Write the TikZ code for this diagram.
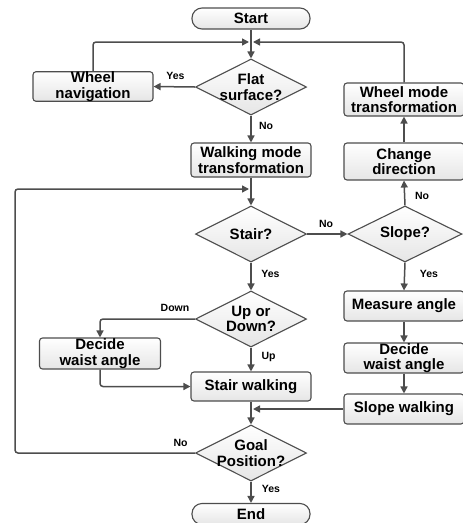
\documentclass[tikz,border=0pt]{standalone}
\usepackage{fontspec}
\setmainfont{Liberation Sans}
\usetikzlibrary{shapes.geometric,arrows.meta}
\definecolor{lncol}{HTML}{4D4D4D}
\begin{document}
\begin{tikzpicture}[x=1pt,y=-1pt,
  box/.style={draw=lncol, line width=1.1pt, rounded corners=3pt, top color=white, bottom color=black!10,
    minimum width=120pt, inner sep=0pt, align=center, font=\bfseries\fontsize{15}{15.5}\selectfont},
  term/.style={box, rounded corners=10pt, minimum width=118pt, minimum height=21pt},
  dia/.style={diamond, draw=lncol, line width=1.1pt, top color=white, bottom color=black!10,
    minimum width=111pt, minimum height=56pt, inner sep=0pt},
  dtext/.style={align=center, inner sep=0pt, font=\bfseries\fontsize{15}{15.5}\selectfont},
  arr/.style={draw=lncol, line width=1.5pt, rounded corners=3pt, -{Triangle[length=7pt,width=7pt]}},
  lab/.style={font=\bfseries\fontsize{10.5}{12}\selectfont, inner sep=0pt}
]
\useasboundingbox (0,0) rectangle (463,523);

% nodes
\node[term] (start) at (251,18.5) {Start};
\node[dia, label={[dtext]center:{Flat\\surface?}}] (flat) at (251,87) {};
\node[box, minimum height=29pt] (wnav) at (93,86.5) {Wheel\\navigation};
\node[box, minimum height=34pt] (walk) at (251,160) {Walking mode\\transformation};
\node[box, minimum height=33pt] (wmt) at (404,99.5) {Wheel mode\\transformation};
\node[box, minimum height=37pt] (chdir) at (404,161.5) {Change\\direction};
\node[dia, label={[dtext]center:{Stair?}}] (stair) at (251,234) {};
\node[dia, minimum width=114pt, label={[dtext]center:{Slope?}}] (slope) at (405,234) {};
\node[dia, label={[dtext]center:{Up or\\Down?}}] (updown) at (251,319) {};
\node[box, minimum width=121pt, minimum height=31pt] (dwl) at (100,353.5) {Decide\\waist angle};
\node[box, minimum height=30pt] (measure) at (404,306) {Measure angle};
\node[box, minimum height=30pt] (dwr) at (404,358) {Decide\\waist angle};
\node[box, minimum height=29pt] (stairw) at (251,386.5) {Stair walking};
\node[box, minimum height=30pt] (slopew) at (404,409) {Slope walking};
\node[dia, label={[dtext]center:{Goal\\Position?}}] (goal) at (251,453) {};
\node[term] (end) at (251,514) {End};

% junction points
\coordinate (j1l) at (249,42);
\coordinate (j1r) at (253,42);
\coordinate (j2) at (249,189);
\coordinate (j3) at (253,409);
\coordinate (lx) at (15,0);

% connectors
\draw[arr] (start) -- (flat);
\draw[arr] (wnav.north) |- (j1l);
\draw[arr] (wmt.north) |- (j1r);
\draw[arr] (flat.west) -- (wnav.east);
\draw[arr] (flat.south) -- (walk.north);
\draw[arr] (walk.south) -- (stair.north);
\draw[arr] (goal.west) -- (goal.west -| lx) |- (j2);
\draw[arr] (stair.east) -- (slope.west);
\draw[arr] (slope.north) -- (chdir.south);
\draw[arr] (chdir.north) -- (wmt.south);
\draw[arr] (slope.south) -- (measure.north);
\draw[arr] (measure.south) -- (dwr.north);
\draw[arr] (dwr.south) -- (slopew.north);
\draw[arr] (slopew.west) -- (j3);
\draw[arr] (stair.south) -- (updown.north);
\draw[arr] (updown.west) -| (dwl.north);
\draw[arr] (updown.south) -- (stairw.north);
\draw[arr] (dwl.south) |- (stairw.west);
\draw[arr] (stairw.south) -- (goal.north);
\draw[arr] (goal.south) -- (end.north);

% labels
\node[lab] (l1) at (175.5,76) {Yes};
\node[lab] (l2) at (266,126) {No};
\node[lab] (l3) at (326,224) {No};
\node[lab] (l4) at (422,196) {No};
\node[lab] (l5) at (429,274) {Yes};
\node[lab] (l6) at (270.5,274) {Yes};
\node[lab] (l7) at (175,308) {Down};
\node[lab] (l8) at (268.5,357) {Up};
\node[lab] (l9) at (180.5,443) {No};
\node[lab] (l10) at (271,489) {Yes};
\end{tikzpicture}
\end{document}
